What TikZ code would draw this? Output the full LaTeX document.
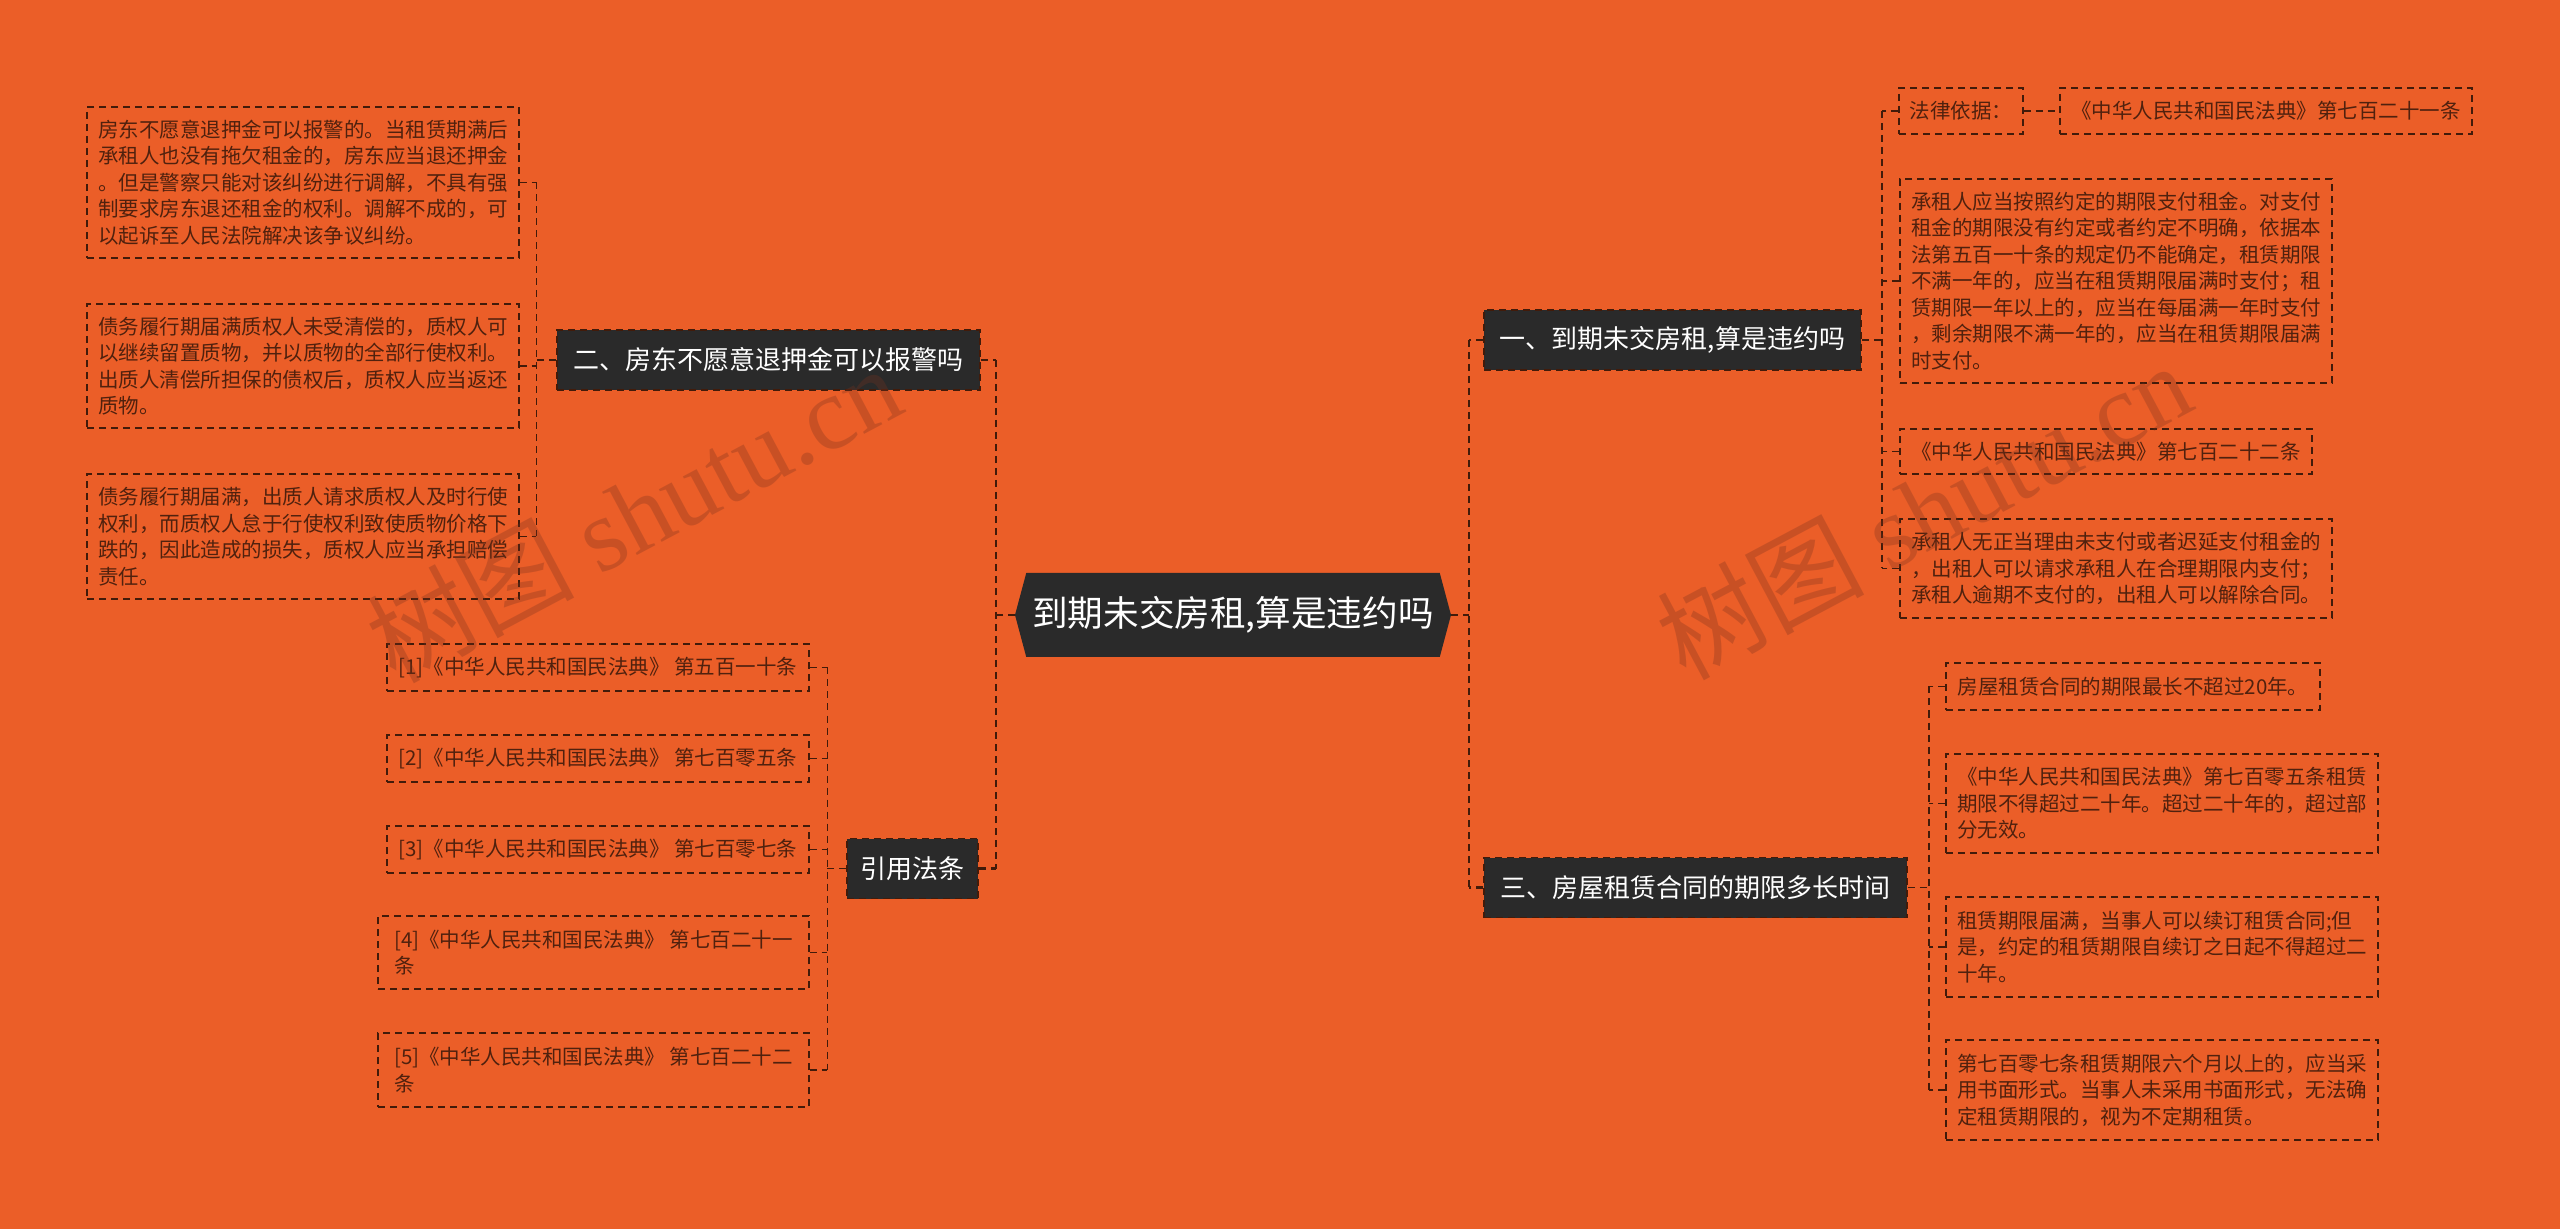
\documentclass[tikz,border=0pt]{standalone}
\usepackage{fontspec}
\setmainfont{Noto Sans CJK SC}
\newfontfamily\wmfont{Liberation Serif}
\usetikzlibrary{shapes.symbols,calc}
\definecolor{bgorange}{RGB}{235,94,40}
\definecolor{nodedark}{RGB}{42,42,42}
\definecolor{leafink}{RGB}{80,33,14}
\definecolor{linkbrown}{RGB}{66,27,10}
\definecolor{wmbrown}{RGB}{120,50,30}

\tikzset{
  leaf/.style={draw=linkbrown, line width=0.65pt, dash pattern=on 3.5pt off 2.5pt,
    text=leafink, font=\fontsize{10.25}{13.25}\selectfont, align=left,
    inner xsep=5pt, inner ysep=0pt},
  branch/.style={fill=nodedark, draw=linkbrown, line width=0.8pt, dash pattern=on 3.5pt off 2.5pt,
    text=white, font=\fontsize{13}{15}\selectfont, minimum height=30pt, inner xsep=0pt},
  rootbox/.style={signal, signal to=west and east, signal pointer angle=150, fill=nodedark,
    text=white, font=\fontsize{17.8}{20}\selectfont, minimum height=42pt,
    inner xsep=3pt, inner ysep=0pt, outer sep=0pt},
  link/.style={draw=linkbrown, line width=0.7pt, dash pattern=on 3.5pt off 2.5pt},
  trunk/.style={link, line width=1.3pt},
  wmtext/.style={text=wmbrown, text opacity=0.3, font=\fontsize{52}{56}\selectfont, rotate=28}
}

\begin{document}
\begin{tikzpicture}[x=0.5pt,y=-0.5pt]
  \useasboundingbox (0,0) rectangle (2560,1229);
  \fill[bgorange] (0,0) rectangle (2560,1229);
  % ---- centre
  \node[rootbox] (root) at (1233,615) {到期未交房租,算是违约吗};
  % ---- left: branch two
  \node[branch, minimum width=211.5pt] (b2) at (768.5,360) {二、房东不愿意退押金可以报警吗};
  \node[leaf, minimum width=216pt, minimum height=75.5pt] (l21) at (303,182.5)
       {房东不愿意退押金可以报警的。当租赁期满后\\承租人也没有拖欠租金的，房东应当退还押金\\。但是警察只能对该纠纷进行调解，不具有强\\制要求房东退还租金的权利。调解不成的，可\\以起诉至人民法院解决该争议纠纷。};
  \node[leaf, minimum width=216pt, minimum height=62pt] (l22) at (303,366)
       {债务履行期届满质权人未受清偿的，质权人可\\以继续留置质物，并以质物的全部行使权利。\\出质人清偿所担保的债权后，质权人应当返还\\质物。};
  \node[leaf, minimum width=216pt, minimum height=62.5pt] (l23) at (303,536.5)
       {债务履行期届满，出质人请求质权人及时行使\\权利，而质权人怠于行使权利致使质物价格下\\跌的，因此造成的损失，质权人应当承担赔偿\\责任。};
  % ---- left: cited articles
  \node[branch, minimum width=65.5pt] (b4) at (912.5,868.5) {引用法条};
  \node[leaf, minimum width=211pt, minimum height=23.5pt] (l41) at (598,667.5)
       {[1]《中华人民共和国民法典》 第五百一十条};
  \node[leaf, minimum width=211pt, minimum height=23.5pt] (l42) at (598,758.5)
       {[2]《中华人民共和国民法典》 第七百零五条};
  \node[leaf, minimum width=211pt, minimum height=23.5pt] (l43) at (598,849.5)
       {[3]《中华人民共和国民法典》 第七百零七条};
  \node[leaf, minimum width=215.5pt, minimum height=36.5pt] (l44) at (593.5,952.5)
       {[4]《中华人民共和国民法典》 第七百二十一\\条};
  \node[leaf, minimum width=215.5pt, minimum height=37pt] (l45) at (593.5,1070)
       {[5]《中华人民共和国民法典》 第七百二十二\\条};
  % ---- right: branch one
  \node[branch, minimum width=188.5pt] (b1) at (1672.5,340) {一、到期未交房租,算是违约吗};
  \node[leaf, minimum width=62pt, minimum height=23pt] (r11) at (1961,111) {法律依据：};
  \node[leaf, minimum width=206pt, minimum height=23pt] (r11b) at (2266,111)
       {《中华人民共和国民法典》第七百二十一条};
  \node[leaf, minimum width=216pt, minimum height=102pt] (r12) at (2116,281)
       {承租人应当按照约定的期限支付租金。对支付\\租金的期限没有约定或者约定不明确，依据本\\法第五百一十条的规定仍不能确定，租赁期限\\不满一年的，应当在租赁期限届满时支付；租\\赁期限一年以上的，应当在每届满一年时支付\\，剩余期限不满一年的，应当在租赁期限届满\\时支付。};
  \node[leaf, minimum width=206pt, minimum height=22.5pt] (r13) at (2106,451.5)
       {《中华人民共和国民法典》第七百二十二条};
  \node[leaf, minimum width=216pt, minimum height=49.5pt] (r14) at (2116,568.5)
       {承租人无正当理由未支付或者迟延支付租金的\\，出租人可以请求承租人在合理期限内支付；\\承租人逾期不支付的，出租人可以解除合同。};
  % ---- right: branch three
  \node[branch, minimum width=211.5pt] (b3) at (1695.5,887.5) {三、房屋租赁合同的期限多长时间};
  \node[leaf, minimum width=187pt, minimum height=23.5pt] (r31) at (2133,686.5)
       {房屋租赁合同的期限最长不超过20年。};
  \node[leaf, minimum width=216pt, minimum height=49.5pt] (r32) at (2162,803.5)
       {《中华人民共和国民法典》第七百零五条租赁\\期限不得超过二十年。超过二十年的，超过部\\分无效。};
  \node[leaf, minimum width=216pt, minimum height=50pt] (r33) at (2162,947)
       {租赁期限届满，当事人可以续订租赁合同;但\\是，约定的租赁期限自续订之日起不得超过二\\十年。};
  \node[leaf, minimum width=216pt, minimum height=50pt] (r34) at (2162,1090)
       {第七百零七条租赁期限六个月以上的，应当采\\用书面形式。当事人未采用书面形式，无法确\\定租赁期限的，视为不定期租赁。};
  % ---- connectors
  \draw[trunk] (root.west) -- ++(-19,0) coordinate (rj);
  \draw[trunk] (rj |- b2.east) -- (rj |- b4.east);
  \draw[trunk] (b2.east) -- (rj |- b2.east);
  \draw[trunk] (b4.east) -- (rj |- b4.east);
  \draw[trunk] (root.east) -- ++(18,0) coordinate (rk);
  \draw[trunk] (rk |- b1.west) -- (rk |- b3.west);
  \draw[trunk] (b1.west) -- (rk |- b1.west);
  \draw[trunk] (b3.west) -- (rk |- b3.west);
  \draw[link] (b2.west) -- ++(-20,0) coordinate (b2j);
  \draw[link] (b2j |- l21.east) -- (b2j |- l23.east);
  \foreach \n in {l21,l22,l23} \draw[link] (\n.east) -- (b2j |- \n.east);
  \draw[link] (b4.west) -- ++(-19,0) coordinate (b4j);
  \draw[link] (b4j |- l41.east) -- (b4j |- l45.east);
  \foreach \n in {l41,l42,l43,l44,l45} \draw[link] (\n.east) -- (b4j |- \n.east);
  \draw[link] (b1.east) -- ++(20,0) coordinate (b1j);
  \draw[link] (b1j |- r11.west) -- (b1j |- r14.west);
  \foreach \n in {r11,r12,r13,r14} \draw[link] (\n.west) -- (b1j |- \n.west);
  \draw[link] (r11.east) -- (r11b.west);
  \draw[link] (b3.east) -- ++(21,0) coordinate (b3j);
  \draw[link] (b3j |- r31.west) -- (b3j |- r34.west);
  \foreach \n in {r31,r32,r33,r34} \draw[link] (\n.west) -- (b3j |- \n.west);
  % ---- watermark
  \node[wmtext] (wm1) at (633,513) {树图 {\wmfont shutu.cn}};
  \node[wmtext] (wm2) at (1923,510) {树图 {\wmfont shutu.cn}};
\end{tikzpicture}
\end{document}
